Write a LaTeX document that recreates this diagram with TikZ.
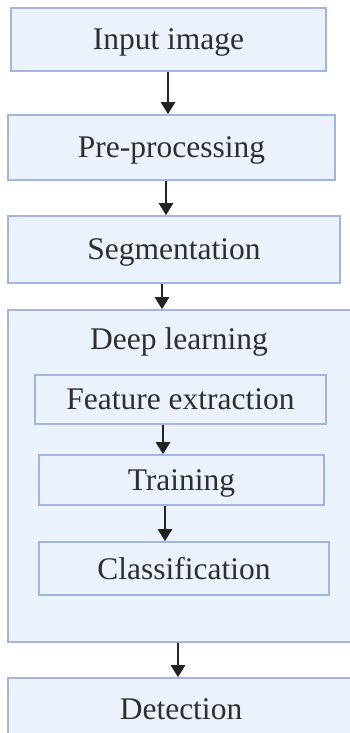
\documentclass[tikz,border=0pt]{standalone}
\usepackage{fontspec}
\setmainfont{Liberation Serif}
\usepackage{tikz}
\usetikzlibrary{arrows.meta}
\usetikzlibrary{positioning}
\definecolor{boxfill}{RGB}{235, 242, 252}
\definecolor{boxline}{RGB}{160, 182, 224}
\definecolor{arrowink}{RGB}{35, 35, 35}

\begin{document}
\begin{tikzpicture}[x=1pt, y=-1pt,
        label text/.style={font=\fontsize{31.5}{36}\selectfont, text=black!82, text depth=0pt},
        stage/.style={draw=boxline, fill=boxfill, line width=1.6pt, inner sep=0pt, label text},
        flow/.style={draw=arrowink, line width=2.4pt, -{Triangle[width=14pt, length=12pt]}}]
            % Frame to fix the page:
            \useasboundingbox                                                  (0, 0) rectangle (350, 733);
            % Outer stages
            \node[stage, minimum width=315pt, minimum height=63pt] (input)   at (168.5,  39.5) {Input image};
            \node[stage, minimum width=327pt, minimum height=65pt] (prep)    at (171.5, 147.5) {Pre-processing};
            \node[stage, minimum width=332pt, minimum height=67pt] (seg)     at (174.0, 249.5) {Segmentation};
            % Deep learning block
            \node[stage, minimum width=346pt, minimum height=332pt] (deep)   at (181.0, 476.0) {};
            \node[label text]                                   (deeptitle) at (179.0, 339.0) {Deep learning};
            \node[stage, minimum width=291pt, minimum height=49pt] (feat)    at (180.5, 399.5) {Feature extraction};
            \node[stage, minimum width=285pt, minimum height=50pt] (train)   at (181.5, 480.0) {Training};
            \node[stage, minimum width=290pt, minimum height=53pt] (class)   at (184.0, 568.5) {Classification};
            % Output
            \node[stage, minimum width=346pt, minimum height=62pt] (detect)  at (181.0, 709.0) {Detection};
            % Arrows
            \draw[flow] ([xshift=-0.5pt]input.south) -- ([xshift=-0.5pt]input.south |- prep.north);
            \draw[flow] ([xshift=-5.5pt]prep.south)  -- ([xshift=-5.5pt]prep.south |- seg.north);
            \draw[flow] ([xshift=-12pt]seg.south)    -- ([xshift=-12pt]seg.south |- deep.north);
            \draw[flow] ([xshift=-17.5pt]feat.south) -- ([xshift=-17.5pt]feat.south |- train.north);
            \draw[flow] ([xshift=-16.5pt]train.south) -- ([xshift=-16.5pt]train.south |- class.north);
            \draw[flow] ([xshift=-3pt]deep.south)    -- ([xshift=-3pt]deep.south |- detect.north);
\end{tikzpicture}
\end{document}
